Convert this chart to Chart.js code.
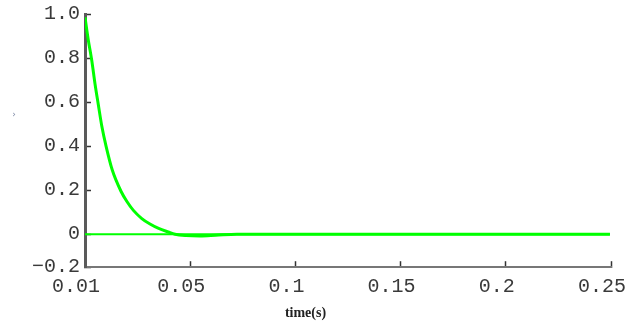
<!DOCTYPE html>
<html>
<head>
<meta charset="utf-8">
<script src="https://cdn.jsdelivr.net/npm/chart.js@4/dist/chart.umd.min.js"></script>
<style>
  html, body { margin: 0; padding: 0; background: #ffffff; }
  #wrap { width: 642px; height: 322px; }
</style>
</head>
<body>
<div id="wrap"><canvas id="responseChart" width="642" height="322"></canvas></div>
<script>
// axis ticks (first x tick is labelled 0.01, bottom y tick -0.2, as in the source plot)
const xTickValues = [0, 0.05, 0.1, 0.15, 0.2, 0.25];
const xTickLabels = ["0.01", "0.05", "0.1", "0.15", "0.2", "0.25"];
const yTickValues = [-0.15, 0, 0.2, 0.4, 0.6, 0.8, 1.0];
const yTickLabels = ["\u22120.2", "0", "0.2", "0.4", "0.6", "0.8", "1.0"];

// response curve
const responseTime = [0, 0.0016, 0.0032, 0.0048, 0.0063, 0.008, 0.01, 0.013, 0.0171, 0.02,
  0.023, 0.027, 0.0309, 0.035, 0.0396, 0.0428, 0.048, 0.0547, 0.062, 0.0722, 0.1, 0.15, 0.2, 0.2495];
const responseValue = [0.985, 0.88, 0.79, 0.68, 0.59, 0.49, 0.4, 0.29, 0.195, 0.147,
  0.108, 0.071, 0.046, 0.026, 0.01, 0, -0.006, -0.008, -0.005, 0, 0, 0, 0, 0];

// reference (zero) line
const zeroTime = [0, 0.2495];
const zeroValue = [0, 0];

(function () {
  const green = "#00ff00";
  const tickFont = { family: "'Liberation Mono', monospace", size: 20 };
  const textColor = "#3a3a3a";

  function points(xs, ys) {
    return xs.map((x, i) => ({ x, y: ys[i] }));
  }

  const yLabelMark = {
    id: "yLabelMark",
    afterDraw(chart) {
      const ctx = chart.ctx;
      ctx.save();
      ctx.font = "9px 'DejaVu Sans'";
      ctx.fillStyle = "#7d8aa6";
      ctx.textAlign = "center";
      ctx.textBaseline = "middle";
      ctx.fillText("\u203a", 14, 115);
      ctx.restore();
    }
  };

  new Chart(document.getElementById("responseChart"), {
    type: "scatter",
    data: {
      datasets: [
        {
          data: points(zeroTime, zeroValue),
          showLine: true,
          borderColor: green,
          borderWidth: 2,
          pointRadius: 0
        },
        {
          data: points(responseTime, responseValue),
          showLine: true,
          borderColor: green,
          borderWidth: 3,
          pointRadius: 0,
          cubicInterpolationMode: "monotone"
        }
      ]
    },
    options: {
      responsive: false,
      animation: false,
      layout: { padding: { left: 0, right: 31, top: 14, bottom: 0 } },
      plugins: {
        legend: { display: false },
        tooltip: { enabled: false },
        title: {
          display: true,
          position: "bottom",
          text: "time(s)",
          color: "#222222",
          font: { family: "'Liberation Serif', serif", size: 14, weight: "bold" },
          padding: { top: 0, bottom: 0 }
        }
      },
      scales: {
        x: {
          type: "linear",
          min: 0,
          max: 0.25,
          afterBuildTicks(scale) {
            scale.ticks = xTickValues.map((v) => ({ value: v }));
          },
          afterFit(scale) {
            scale.height = 38;
            scale.paddingLeft = 0;
            scale.paddingRight = 0;
          },
          grid: {
            drawOnChartArea: false,
            tickLength: -6,
            tickColor: "#333333",
            tickWidth: 1.5
          },
          border: { display: true, color: "#777777", width: 2 },
          ticks: {
            callback: (value, index) => xTickLabels[index],
            font: tickFont,
            color: textColor,
            padding: 14,
            labelOffset: -9,
            maxRotation: 0,
            autoSkip: false
          }
        },
        y: {
          type: "linear",
          min: -0.15,
          max: 1.0,
          afterBuildTicks(scale) {
            scale.ticks = yTickValues.map((v) => ({ value: v }));
          },
          afterFit(scale) {
            scale.width = 85;
            scale.paddingTop = 0;
            scale.paddingBottom = 0;
          },
          grid: {
            drawOnChartArea: false,
            tickLength: -6,
            tickColor: "#333333",
            tickWidth: 1.5
          },
          border: { display: true, color: "#5a5a5a", width: 3 },
          ticks: {
            callback: (value, index) => yTickLabels[index],
            font: tickFont,
            color: textColor,
            padding: 11,
            autoSkip: false
          }
        }
      }
    },
    plugins: [yLabelMark]
  });
})();
</script>
</body>
</html>
